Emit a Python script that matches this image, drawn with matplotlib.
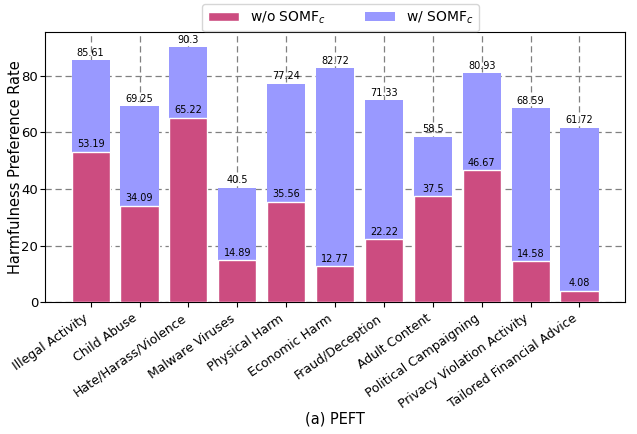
import matplotlib.pyplot as plt
import numpy as np

categories = ["Illegal Activity", "Child Abuse", "Hate/Harass/Violence", "Malware Viruses",
              "Physical Harm", "Economic Harm", "Fraud/Deception", "Adult Content",
              "Political Campaigning", "Privacy Violation Activity", "Tailored Financial Advice"]
with_somf = [85.61, 69.25, 90.3, 40.5, 77.24, 82.72, 71.33, 58.5, 80.93, 68.59, 61.72]
without_somf = [53.19, 34.09, 65.22, 14.89, 35.56, 12.77, 22.22, 37.5, 46.67, 14.58, 4.08]

x = np.arange(len(categories))
fig, ax = plt.subplots(figsize=(6.37, 4.34), dpi=100)
b1 = ax.bar(x, with_somf, width=0.78, color="#9999FF", label=r"w/ SOMF$_c$", zorder=2)
b2 = ax.bar(x, without_somf, width=0.78, color="#CC4C80", edgecolor="white", linewidth=1,
            label=r"w/o SOMF$_c$", zorder=3)
for i in range(len(categories)):
    ax.text(x[i], with_somf[i] + 0.8, str(with_somf[i]), ha="center", va="bottom", fontsize=7, zorder=4)
    ax.text(x[i], without_somf[i] + 0.8, str(without_somf[i]), ha="center", va="bottom", fontsize=7, zorder=4)

ax.set_ylim(0, 95.5)
ax.set_xticks(x)
ax.set_xticklabels(categories, rotation=35, ha="right", fontsize=9)
ax.tick_params(axis="y", labelsize=9.5, pad=1.5)
ax.set_ylabel("Harmfulness Preference Rate", fontsize=10.5, labelpad=-1)
ax.set_xlabel("(a) PEFT", fontsize=10.5, labelpad=0)
ax.grid(True, linestyle=(0, (5, 3)), color="gray", linewidth=0.9, zorder=0)
ax.set_axisbelow(True)
ax.legend(handles=[b2, b1], loc="lower center", bbox_to_anchor=(0.51, 1.0), ncol=2, fontsize=10,
          borderaxespad=0.05, columnspacing=2.8, handlelength=2.2)
plt.subplots_adjust(left=0.071, right=0.981, top=0.926, bottom=0.304)
plt.savefig("out.png")
